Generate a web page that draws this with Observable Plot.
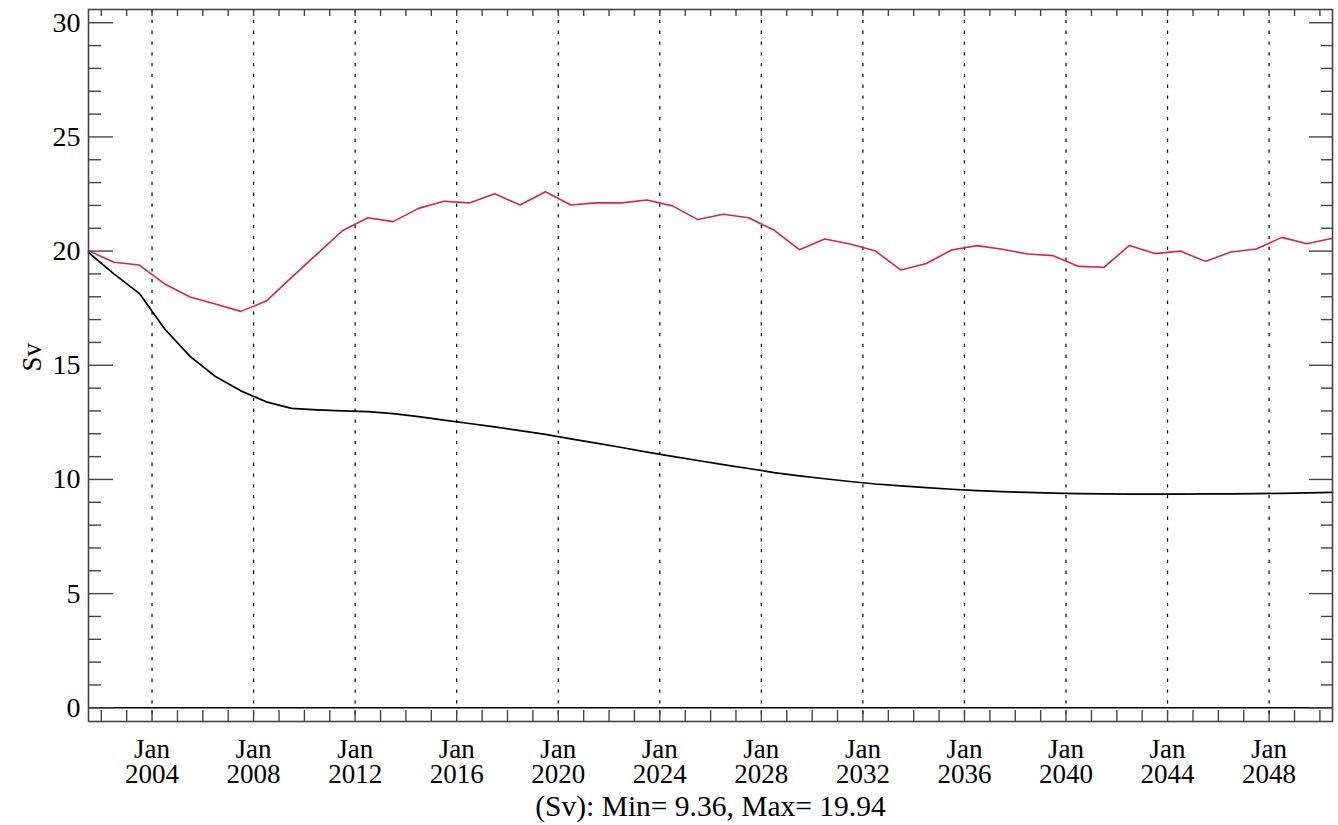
<!DOCTYPE html>
<html>
<head>
<meta charset="utf-8">
<script src="https://cdn.jsdelivr.net/npm/d3@7"></script>
<script src="https://cdn.jsdelivr.net/npm/@observablehq/plot@0.6"></script>
<style>
  html, body { margin: 0; padding: 0; background: #fff; }
  #chart svg { display: block; }
  #chart svg, #chart svg text { font-family: "Liberation Serif", "Times New Roman", serif !important; }
</style>
</head>
<body>
<div id="chart"></div>
<script>
// Annual (mid-year) values
const years = [2001, 2002, 2003, 2004, 2005, 2006, 2007, 2008, 2009, 2010,
               2011, 2012, 2013, 2014, 2015, 2016, 2017, 2018, 2019, 2020,
               2021, 2022, 2023, 2024, 2025, 2026, 2027, 2028, 2029, 2030,
               2031, 2032, 2033, 2034, 2035, 2036, 2037, 2038, 2039, 2040,
               2041, 2042, 2043, 2044, 2045, 2046, 2047, 2048, 2049, 2050];

const blackSv = [19.94, 19.00, 18.15, 16.59, 15.39, 14.51, 13.88, 13.40, 13.11, 13.05,
                 13.00, 12.97, 12.88, 12.75, 12.60, 12.45, 12.30, 12.14, 11.97, 11.78,
                 11.59, 11.40, 11.20, 11.01, 10.83, 10.65, 10.48, 10.30, 10.16, 10.03,
                 9.91, 9.80, 9.72, 9.64, 9.57, 9.51, 9.47, 9.43, 9.40, 9.38,
                 9.37, 9.36, 9.36, 9.36, 9.37, 9.37, 9.38, 9.39, 9.41, 9.43];

const redSv = [20.02, 19.51, 19.39, 18.56, 17.99, 17.68, 17.36, 17.81, 18.85, 19.87,
               20.89, 21.46, 21.29, 21.87, 22.18, 22.11, 22.51, 22.02, 22.60, 22.02,
               22.11, 22.11, 22.24, 21.98, 21.38, 21.61, 21.46, 20.92, 20.06, 20.53,
               20.31, 20.00, 19.17, 19.46, 20.05, 20.24, 20.08, 19.87, 19.80, 19.33,
               19.29, 20.25, 19.89, 20.00, 19.55, 19.96, 20.09, 20.60, 20.32, 20.56];

const labelYears = [2004, 2008, 2012, 2016, 2020, 2024, 2028, 2032, 2036, 2040, 2044, 2048];
const yMajorTicks = [0, 5, 10, 15, 20, 25, 30];
const yTitle = "Sv";
const captionText = "(Sv): Min= 9.36, Max= 19.94";

// Build tables
const midYear = y => new Date(Date.UTC(y, 6, 1));
const jan = y => new Date(Date.UTC(y, 0, 1));
const blackData = years.map((y, i) => ({date: midYear(y), value: blackSv[i]}));
const redData = years.map((y, i) => ({date: midYear(y), value: redSv[i]}));
const labelDates = labelYears.map(jan);
const yearTicks = d3.utcYear.range(jan(2002), jan(2051));
const yMinorTicks = d3.range(0, 31).filter(v => v % 5 !== 0);

const FONT = "Liberation Serif, Times New Roman, serif";
const frameColor = "#444";

const chart = Plot.plot({
  width: 1338,
  height: 825,
  marginLeft: 88,
  marginRight: 6,
  marginTop: 9,
  marginBottom: 104,
  style: {fontFamily: FONT, fontSize: "28px", color: "#000", background: "#fff"},
  x: {type: "utc", domain: [midYear(2001), midYear(2050)], label: null},
  y: {domain: [-0.6, 30.58], label: null},
  marks: [
    // dotted vertical grid
    Plot.ruleX(labelDates, {stroke: "#000", strokeWidth: 1.2, strokeDasharray: "3.3,7.5"}),
    // zero line
    Plot.ruleY([0], {stroke: "#000", strokeWidth: 1.5}),
    // series
    Plot.line(blackData, {x: "date", y: "value", stroke: "#000", strokeWidth: 1.7}),
    Plot.line(redData, {x: "date", y: "value", stroke: "#d7264a", strokeWidth: 1.6}),
    // frame
    Plot.frame({stroke: frameColor, strokeWidth: 1.6}),
    // y ticks (inward) left & right
    Plot.axisY({anchor: "left", ticks: yMajorTicks, tickSize: -25, fill: "none", stroke: frameColor, strokeWidth: 1.4, label: null}),
    Plot.axisY({anchor: "left", ticks: yMinorTicks, tickSize: -13, fill: "none", stroke: frameColor, strokeWidth: 1.4, label: null}),
    Plot.axisY({anchor: "right", ticks: yMajorTicks, tickSize: -24, fill: "none", stroke: frameColor, strokeWidth: 1.4, label: null}),
    Plot.axisY({anchor: "right", ticks: yMinorTicks, tickSize: -12, fill: "none", stroke: frameColor, strokeWidth: 1.4, label: null}),
    // y tick labels
    Plot.axisY({anchor: "left", ticks: yMajorTicks, tickSize: 0, tickPadding: 8, fontSize: 28, fontFamily: FONT, fill: "#000", tickFormat: d => String(d), label: null}),
    // x ticks (inward) bottom & top
    Plot.axisX({anchor: "bottom", ticks: yearTicks, tickSize: -11, fill: "none", stroke: frameColor, strokeWidth: 1.4, label: null}),
    Plot.axisX({anchor: "top", ticks: yearTicks, tickSize: -6, fill: "none", stroke: frameColor, strokeWidth: 1.4, label: null}),
    // x tick labels
    Plot.axisX({anchor: "bottom", ticks: labelDates, tickSize: 0, tickPadding: 19, fontSize: 27, fontFamily: FONT, lineHeight: 0.93, fill: "#000",
                tickFormat: d => `Jan\n${d.getUTCFullYear()}`, label: null}),
    // y title
    Plot.text([yTitle], {frameAnchor: "left", rotate: -90, dx: -56, dy: 6, fontSize: 27, fontFamily: FONT, fill: "#000", text: d => d}),
    // caption
    Plot.text([captionText], {frameAnchor: "bottom", dy: 94, lineAnchor: "bottom", fontSize: 29.5, fontFamily: FONT, fill: "#000", text: d => d})
  ]
});

document.getElementById("chart").appendChild(chart);
</script>
</body>
</html>
